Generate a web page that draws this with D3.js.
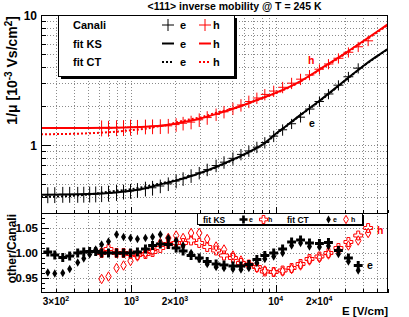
<!DOCTYPE html>
<html><head><meta charset="utf-8">
<script src="https://cdn.jsdelivr.net/npm/d3@7"></script>
<style>
body{margin:0;background:#fff}
svg{display:block;font-family:"Liberation Sans",Arial,Helvetica,sans-serif;font-weight:bold}
</style>
</head><body><svg id="c" width="409" height="317"></svg>
<script>
// ---------------- data ----------------
const titleText = "<111> inverse mobility @ T = 245 K";
// electron Canali data (E in V/cm, 1/mu in 1e-3 Vs/cm2)
const eE = [263,294,334,373,424,467,513,565,621,693,788,881,985,1100,1250,1400,1585,1800,2040,2280,2590,2950,3350,3860,4380,5050,5740,6510,7400,8400,9680,11160,12880,14860,17140,20090,23200,27200,31900,37300];
const canaliE = [0.415,0.416,0.418,0.418,0.418,0.419,0.42,0.421,0.423,0.427,0.432,0.438,0.444,0.451,0.462,0.469,0.484,0.503,0.528,0.551,0.581,0.611,0.647,0.695,0.738,0.79,0.847,0.90,0.963,1.045,1.17,1.31,1.458,1.637,1.89,2.16,2.47,2.886,3.35,3.9];
const errE = [0.14,0.14,0.14,0.14,0.14,0.14,0.14,0.14,0.14,0.14,0.14,0.13,0.13,0.13,0.13,0.13,0.12,0.12,0.12,0.12,0.12,0.11,0.11,0.11,0.11,0.11,0.1,0.1,0.1,0.1,0.1,0.1,0.09,0.09,0.09,0.09,0.09,0.09,0.09,0.09];
// hole Canali data
const hE = [621,693,788,881,985,1100,1250,1400,1585,1800,2040,2280,2590,2950,3350,3860,4380,5050,5740,6510,7400,8400,9680,11160,12880,14860,17140,20090,23200,27200,31900,37300,43700];
const canaliH = [1.355,1.346,1.36,1.363,1.373,1.38,1.388,1.392,1.396,1.405,1.436,1.47,1.50,1.564,1.626,1.72,1.80,1.91,2.03,2.16,2.30,2.45,2.6,2.78,2.99,3.21,3.46,3.83,4.2,4.65,5.17,5.7,6.33];
const errH = [0.14,0.14,0.14,0.14,0.14,0.13,0.13,0.13,0.13,0.13,0.12,0.12,0.12,0.12,0.12,0.11,0.11,0.11,0.11,0.11,0.1,0.1,0.1,0.1,0.1,0.1,0.09,0.09,0.09,0.09,0.09,0.09,0.09];
// fit curves
const fitE = [236,500,700,1000,1250,1500,1800,2000,2500,3000,4000,5000,6000,7000,8500,10000,12000,15000,20000,30000,40000,50000,60000];
const ksE  = [0.415,0.42,0.428,0.445,0.465,0.49,0.515,0.53,0.57,0.61,0.69,0.77,0.845,0.92,1.05,1.22,1.42,1.72,2.18,3.12,4.02,4.8,5.5];
const ctE  = [0.398,0.416,0.438,0.458,0.479,0.5,0.522,0.535,0.573,0.605,0.684,0.763,0.838,0.913,1.04,1.21,1.41,1.71,2.16,3.1,4.0,4.78,5.48];
const ksH  = [1.35,1.352,1.356,1.37,1.382,1.40,1.43,1.46,1.53,1.6,1.75,1.89,2.03,2.17,2.35,2.52,2.75,3.12,3.8,5.05,6.25,7.4,8.5];
const ctH  = [1.21,1.23,1.255,1.30,1.335,1.385,1.43,1.48,1.57,1.63,1.79,1.9,2.03,2.16,2.34,2.5,2.73,3.1,3.76,4.98,6.17,7.3,8.4];
// ratios fit/Canali
const ksRatioE = [1.002,0.996,0.991,0.994,1.0,1.002,1.003,1.003,1.0,1.0,1.0,1.0,1.0,1.002,1.008,1.015,1.018,1.017,1.01,1.004,0.995,0.99,0.983,0.978,0.976,0.974,0.974,0.977,0.987,0.995,1.0,1.008,1.022,1.026,1.02,1.019,1.021,1.005,0.99,0.975];
const ctRatioE = [0.961,0.959,0.96,0.968,0.981,0.989,0.997,1.007,1.017,1.023,1.037,1.032,1.03,1.028,1.03,1.032,1.037,1.03,1.025,1.015,1.0,0.988,0.978,0.972,0.97,0.968,0.967,0.97,0.98,0.988,0.993,1.0,1.015,1.02,1.013,1.012,1.014,0.998,0.983,0.965];
const ksRatioH = [1.0,1.008,1.0,1.0,0.998,0.996,0.998,1.002,1.01,1.018,1.02,1.02,1.025,1.02,1.012,1.005,0.995,0.99,0.98,0.977,0.972,0.963,0.962,0.965,0.97,0.978,0.988,0.993,1.0,1.01,1.022,1.035,1.05];
const ctRatioH = [0.948,0.953,0.97,0.975,0.984,0.993,1.0,1.005,1.02,1.03,1.035,1.03,1.04,1.04,1.028,1.013,1.007,0.995,0.985,0.975,0.97,0.965,0.962,0.963,0.968,0.975,0.985,0.99,0.997,1.005,1.015,1.025,1.04];
// axis ticks / labels
const xTickVals = [300,1000,2000,10000,20000];
const xTickLabels = ["3×10^2","10^3","2×10^3","10^4","2×10^4"];
const yTopTickVals = [1,10];
const yTopTickLabels = ["1","10"];
const yBotTickVals = [0.95,1.0,1.05];
const yBotTickLabels = ["0.95","1.00","1.05"];

// ---------------- layout ----------------
const svg = d3.select('#c');
const L=41,R=388,T=15,M=213,B=293;
const x  = d3.scaleLog().domain([236,60000]).range([L,R]);
const yT = d3.scaleLog().domain([0.3,10]).range([M,T]);
const yB = d3.scaleLinear().domain([0.92,1.08]).range([B,M]);
const RED="#ff0000";

const defs=svg.append('defs');
defs.append('clipPath').attr('id','ct').append('rect').attr('x',L).attr('y',T).attr('width',R-L).attr('height',M-T);
defs.append('clipPath').attr('id','cb').append('rect').attr('x',L).attr('y',M).attr('width',R-L).attr('height',B-M);

// ---------- grids ----------
const xMinor = x.ticks().filter(v=>x(v)>L+0.5 && x(v)<R-0.5);
const gridStyle = s=>s.attr('stroke','#8a8a8a').attr('stroke-width',1).attr('stroke-dasharray','1,2').attr('shape-rendering','crispEdges');
[[T,M],[M,B]].forEach(([a,b])=>{
  svg.append('g').selectAll('line').data(xMinor).join('line')
    .attr('x1',d=>Math.round(x(d))+0.5).attr('x2',d=>Math.round(x(d))+0.5).attr('y1',a).attr('y2',b).call(gridStyle);
});
const yTMinor = yT.ticks().filter(v=>yT(v)>T+0.5 && yT(v)<M-0.5);
svg.append('g').selectAll('line').data(yTMinor).join('line')
  .attr('x1',L).attr('x2',R).attr('y1',d=>Math.round(yT(d))+0.5).attr('y2',d=>Math.round(yT(d))+0.5).call(gridStyle);
svg.append('g').selectAll('line').data(yBotTickVals).join('line')
  .attr('x1',L).attr('x2',R).attr('y1',d=>Math.round(yB(d))+0.5).attr('y2',d=>Math.round(yB(d))+0.5).call(gridStyle);

// ---------- top panel ----------
const gT = svg.append('g').attr('clip-path','url(#ct)');
function binEdges(arr){
  return arr.map((v,i)=>{
    const prev = i>0 ? arr[i-1] : v*v/arr[i+1];
    const next = i<arr.length-1 ? arr[i+1] : v*v/arr[i-1];
    return [Math.sqrt(prev*v), Math.sqrt(v*next)];
  });
}
function drawData(Es, vals, errs, col){
  const edges = binEdges(Es);
  const g = gT.append('g').attr('stroke',col).attr('stroke-width',1);
  Es.forEach((E,i)=>{
    g.append('line').attr('x1',x(edges[i][0])).attr('x2',x(edges[i][1]))
      .attr('y1',yT(vals[i])).attr('y2',yT(vals[i]));
    g.append('line').attr('x1',x(E)).attr('x2',x(E))
      .attr('y1',yT(vals[i]*(1-errs[i]))).attr('y2',yT(vals[i]*(1+errs[i])));
  });
}
drawData(eE, canaliE, errE, '#000');
drawData(hE, canaliH, errH, RED);

const line = d3.line().x(d=>x(d[0])).y(d=>yT(d[1])).curve(d3.curveMonotoneX);
function fitLine(vals,col,dash){
  gT.append('path').datum(fitE.map((e,i)=>[e,vals[i]])).attr('d',line)
    .attr('fill','none').attr('stroke',col).attr('stroke-width',2)
    .attr('stroke-dasharray',dash||null);
}
fitLine(ctE,'#000','2,2');
fitLine(ctH,RED,'2,2');
fitLine(ksE,'#000');
fitLine(ksH,RED);

// ---------- bottom panel ----------
const gB = svg.append('g').attr('clip-path','url(#cb)');
const symCross = d3.symbol(d3.symbolCross,44);
const symDiam = d3.symbol(d3.symbolDiamond,22);
const symDiamO = d3.symbol(d3.symbolDiamond,26);
function pts(Es, vals, sym, fill, stroke){
  gB.append('g').selectAll('path').data(Es).join('path')
    .attr('d',sym).attr('transform',(d,i)=>`translate(${x(d)},${yB(vals[i])})`)
    .attr('fill',fill).attr('stroke',stroke||'none').attr('stroke-width',1);
}
pts(hE, ctRatioH, symDiamO, 'none', RED);
pts(hE, ksRatioH, symCross, 'none', RED);
pts(eE, ctRatioE, symDiam, '#000');
pts(eE, ksRatioE, symCross, '#000');

// ---------- frames ----------
svg.append('rect').attr('x',L+0.5).attr('y',T+0.5).attr('width',R-L-1).attr('height',M-T).attr('fill','none').attr('stroke','#000').attr('shape-rendering','crispEdges');
svg.append('rect').attr('x',L+0.5).attr('y',M+0.5).attr('width',R-L-1).attr('height',B-M-1).attr('fill','none').attr('stroke','#000').attr('shape-rendering','crispEdges');

// ---------- ticks ----------
const tk = svg.append('g').attr('stroke','#000').attr('stroke-width',1).attr('shape-rendering','crispEdges');
yT.ticks().forEach(v=>{
  const major = yTopTickVals.includes(v);
  const yy=Math.round(yT(v))+0.5;
  tk.append('line').attr('x1',L).attr('x2',L+(major?10:5)).attr('y1',yy).attr('y2',yy);
});
d3.range(0.93,1.0801,0.01).forEach(v=>{
  const major = Math.abs((v*100)%5)<0.01 || Math.abs((v*100)%5-5)<0.01;
  const yy=Math.round(yB(v))+0.5;
  tk.append('line').attr('x1',L).attr('x2',L+(major?8:4)).attr('y1',yy).attr('y2',yy);
});
x.ticks().forEach(v=>{
  const lg = Math.log10(v); const major = Math.abs(lg-Math.round(lg))<1e-6;
  const xx=Math.round(x(v))+0.5;
  tk.append('line').attr('x1',xx).attr('x2',xx).attr('y1',B).attr('y2',B-(major?8:4));
  tk.append('line').attr('x1',xx).attr('x2',xx).attr('y1',M).attr('y2',M-(major?6:3));
});

// ---------- labels ----------
function supText(sel, str, base, sup){
  const parts = str.split('^');
  sel.append('tspan').text(parts[0]);
  for(let i=1;i<parts.length;i++){
    const m = parts[i].match(/^(-?\d+)(.*)$/);
    sel.append('tspan').attr('dy',-base*0.42).attr('font-size',sup).text(m[1]);
    if(m[2]) sel.append('tspan').attr('dy',base*0.42).text(m[2]);
  }
}
xTickVals.forEach((v,i)=>{
  const t = svg.append('text').attr('x',x(v)).attr('y',305).attr('text-anchor','middle').attr('font-size',10);
  supText(t, xTickLabels[i], 10, 7);
});
yTopTickVals.forEach((v,i)=>{
  svg.append('text').attr('x',37).attr('y',yT(v)+4.5).attr('text-anchor','end').attr('font-size',12).text(yTopTickLabels[i]);
});
yBotTickVals.forEach((v,i)=>{
  svg.append('text').attr('x',38).attr('y',yB(v)+4).attr('text-anchor','end').attr('font-size',11.5).text(yBotTickLabels[i]);
});
svg.append('text').attr('x',234.5).attr('y',10).attr('text-anchor','middle').attr('font-size',10.5).text(titleText);
{
  const t = svg.append('text').attr('transform','translate(17,16) rotate(-90)').attr('text-anchor','end').attr('font-size',14);
  t.append('tspan').text('1/μ [10');
  t.append('tspan').attr('dy',-5.5).attr('font-size',10).text('-3');
  t.append('tspan').attr('dy',5.5).text(' Vs/cm');
  t.append('tspan').attr('dy',-5.5).attr('font-size',10).text('2');
  t.append('tspan').attr('dy',5.5).text(']');
}
svg.append('text').attr('transform','translate(16,214) rotate(-90)').attr('text-anchor','end').attr('font-size',12).text('other/Canali');
svg.append('text').attr('x',388).attr('y',315).attr('text-anchor','end').attr('font-size',11.5).text('E [V/cm]');
svg.append('text').attr('x',308).attr('y',64).attr('font-size',10.5).attr('fill',RED).text('h');
svg.append('text').attr('x',309).attr('y',127).attr('font-size',10.5).attr('fill','#000').text('e');
svg.append('text').attr('x',377).attr('y',234).attr('font-size',10.5).attr('fill',RED).text('h');
svg.append('text').attr('x',367).attr('y',269).attr('font-size',10.5).attr('fill','#000').text('e');

// ---------- top legend ----------
{
  const lx=58, ly=15, lw=176, lh=61;
  svg.append('rect').attr('x',lx+3).attr('y',ly+3).attr('width',lw).attr('height',lh).attr('fill','#000');
  svg.append('rect').attr('x',lx+0.5).attr('y',ly+0.5).attr('width',lw).attr('height',lh).attr('fill','#fff').attr('stroke','#000').attr('shape-rendering','crispEdges');
  const rows=[["Canali",25],["fit KS",43.5],["fit CT",62]];
  rows.forEach(([s,yy])=>svg.append('text').attr('x',73).attr('y',yy+4).attr('font-size',11).text(s));
  const g=svg.append('g');
  [[168,'#000','e',180],[205,RED,'h',213]].forEach(([cx,col,lab,tx])=>{
    g.append('line').attr('x1',cx-6).attr('x2',cx+6).attr('y1',25).attr('y2',25).attr('stroke',col);
    g.append('line').attr('x1',cx).attr('x2',cx).attr('y1',19).attr('y2',31).attr('stroke',col);
    g.append('line').attr('x1',cx-6).attr('x2',cx+6).attr('y1',43.5).attr('y2',43.5).attr('stroke',col).attr('stroke-width',2);
    g.append('line').attr('x1',cx-6).attr('x2',cx+6).attr('y1',62).attr('y2',62).attr('stroke',col).attr('stroke-width',2).attr('stroke-dasharray','2,2');
    [25,43.5,62].forEach(yy=>g.append('text').attr('x',tx).attr('y',yy+4).attr('font-size',11).attr('fill','#000').text(lab));
  });
}
// ---------- bottom legend ----------
{
  const lx=197, ly=213, lw=165, lh=11;
  svg.append('rect').attr('x',lx+2).attr('y',ly+2).attr('width',lw).attr('height',lh).attr('fill','#000');
  svg.append('rect').attr('x',lx+0.5).attr('y',ly+0.5).attr('width',lw).attr('height',lh).attr('fill','#fff').attr('stroke','#000').attr('shape-rendering','crispEdges');
  const cy=219.5;
  svg.append('text').attr('x',203).attr('y',cy+3).attr('font-size',8.5).text('fit KS');
  svg.append('text').attr('x',287).attr('y',cy+3).attr('font-size',8.5).text('fit CT');
  const g=svg.append('g');
  g.append('path').attr('d',d3.symbol(d3.symbolCross,36)).attr('transform',`translate(243.5,${cy})`).attr('fill','#000');
  g.append('path').attr('d',d3.symbol(d3.symbolCross,36)).attr('transform',`translate(263.5,${cy})`).attr('fill','none').attr('stroke',RED);
  g.append('path').attr('d',d3.symbol(d3.symbolDiamond,18)).attr('transform',`translate(328.5,${cy})`).attr('fill','#000');
  g.append('path').attr('d',d3.symbol(d3.symbolDiamond,20)).attr('transform',`translate(346,${cy})`).attr('fill','none').attr('stroke',RED);
  [[249,'e'],[268,'h'],[333,'e'],[351,'h']].forEach(([tx,s])=>g.append('text').attr('x',tx).attr('y',cy+2.5).attr('font-size',7).text(s));
}
</script>
</body></html>
